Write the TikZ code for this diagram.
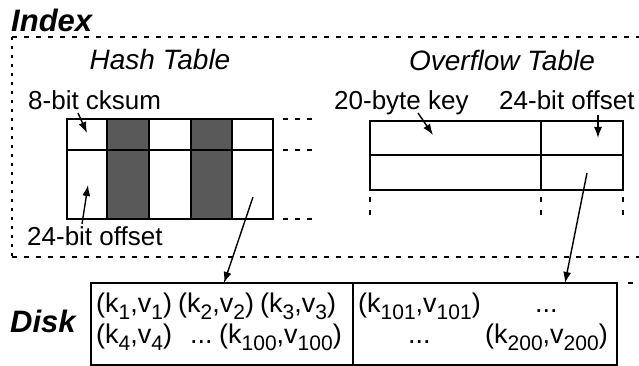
\documentclass[tikz,border=0pt]{standalone}
\usepackage{fontspec}
\setmainfont{Liberation Sans}
\usetikzlibrary{arrows.meta}
\newcommand\sbx[1]{\raisebox{-7pt}{\fontsize{21}{21}\selectfont #1}}
\begin{document}
\begin{tikzpicture}[x=1pt,y=-1pt,
  lbl/.style={inner sep=0pt, anchor=base west, font=\fontsize{26}{28}\selectfont},
  ttl/.style={inner sep=0pt, anchor=base, font=\fontsize{28}{30}\selectfont\itshape},
  big/.style={inner sep=0pt, anchor=base west, font=\fontsize{31}{34}\selectfont\bfseries\itshape},
  kv/.style={inner sep=0pt, anchor=base west, font=\fontsize{27}{30}\selectfont},
  tbl/.style={line width=1.6pt},
  dsh/.style={line width=1.5pt, dash pattern=on 5pt off 7pt},
  vdsh/.style={line width=1.5pt, dash pattern=on 3pt off 6pt},
  ptr/.style={line width=1.4pt, -{Latex[length=11pt,width=8pt]}},
]
\useasboundingbox (0,0) rectangle (639,366);
% Index region
\node[big] (index) at (11,32) {Index};
\draw[dsh] (12,37) -- (639,37);
\draw[dsh] (12,257) -- (639,257);
\draw[vdsh] (12,37) -- (12,257);
\node[ttl] (htitle) at (160,70) {Hash Table};
\node[ttl] (otitle) at (502,71) {Overflow Table};
% Hash table
\fill[black!65] (107,119) rectangle (149,219);
\fill[black!65] (191,119) rectangle (232,219);
\draw[tbl] (67,119) rectangle (273,219);
\draw[tbl] (67,150) -- (273,150);
\foreach \x in {107,149,191,232} \draw[tbl] (\x,119) -- (\x,219);
\foreach \y in {119,150,219} \draw[dsh] (283,\y) -- (315,\y);
\node[lbl] (cks) at (28,110) {8-bit cksum};
\node[lbl] (hoff) at (27,245) {24-bit offset};
\coordinate (cksT) at (78,113);
\coordinate (cksH) at (87,133);
\coordinate (hoffT) at (82,224);
\coordinate (hoffH) at (88,185);
\draw[ptr] (cksT) -- (cksH);
\draw[ptr] (hoffT) -- (hoffH);
% Overflow table
\draw[tbl] (370,121) rectangle (623,190);
\draw[tbl] (370,155) -- (623,155);
\draw[tbl] (541,121) -- (541,190);
\foreach \x in {370,541,623} \draw[vdsh, dash pattern=on 5pt off 8pt] (\x,197) -- (\x,222);
\node[lbl] (key) at (334,110) {20-byte key};
\node[lbl] (ooff) at (499,110) {24-bit offset};
\coordinate (keyT) at (418,113);
\coordinate (keyH) at (433,135);
\coordinate (ooffT) at (598,115);
\coordinate (ooffH) at (598,138);
\draw[ptr] (keyT) -- (keyH);
\draw[ptr] (ooffT) -- (ooffH);
% Disk
\node[big] (disk) at (10,332) {Disk};
\draw[tbl] (91,283) rectangle (617,365);
\draw[tbl] (353,283) -- (353,365);
\draw[dsh] (628,283) -- (639,283);
\node[kv] (g1) at (96,312) {(k\sbx{1},v\sbx{1})};
\node[kv] (g2) at (178,312) {(k\sbx{2},v\sbx{2})};
\node[kv] (g3) at (260,312) {(k\sbx{3},v\sbx{3})};
\node[kv] (g4) at (96,343) {(k\sbx{4},v\sbx{4})};
\node[kv] (d1) at (190,343) {...};
\node[kv] (g100) at (219,343) {(k\sbx{100},v\sbx{100})};
\node[kv] (g101) at (358,312) {(k\sbx{101},v\sbx{101})};
\node[kv] (d2) at (535,312) {...};
\node[kv] (d3) at (408,343) {...};
\node[kv] (g200) at (485,343) {(k\sbx{200},v\sbx{200})};
% pointers to disk
\coordinate (hsrc) at (253,197);
\coordinate (hdst) at (224,283);
\coordinate (osrc) at (587,173);
\coordinate (odst) at (565,283);
\draw[ptr] (hsrc) -- (hdst);
\draw[ptr] (osrc) -- (odst);
\end{tikzpicture}
\end{document}
